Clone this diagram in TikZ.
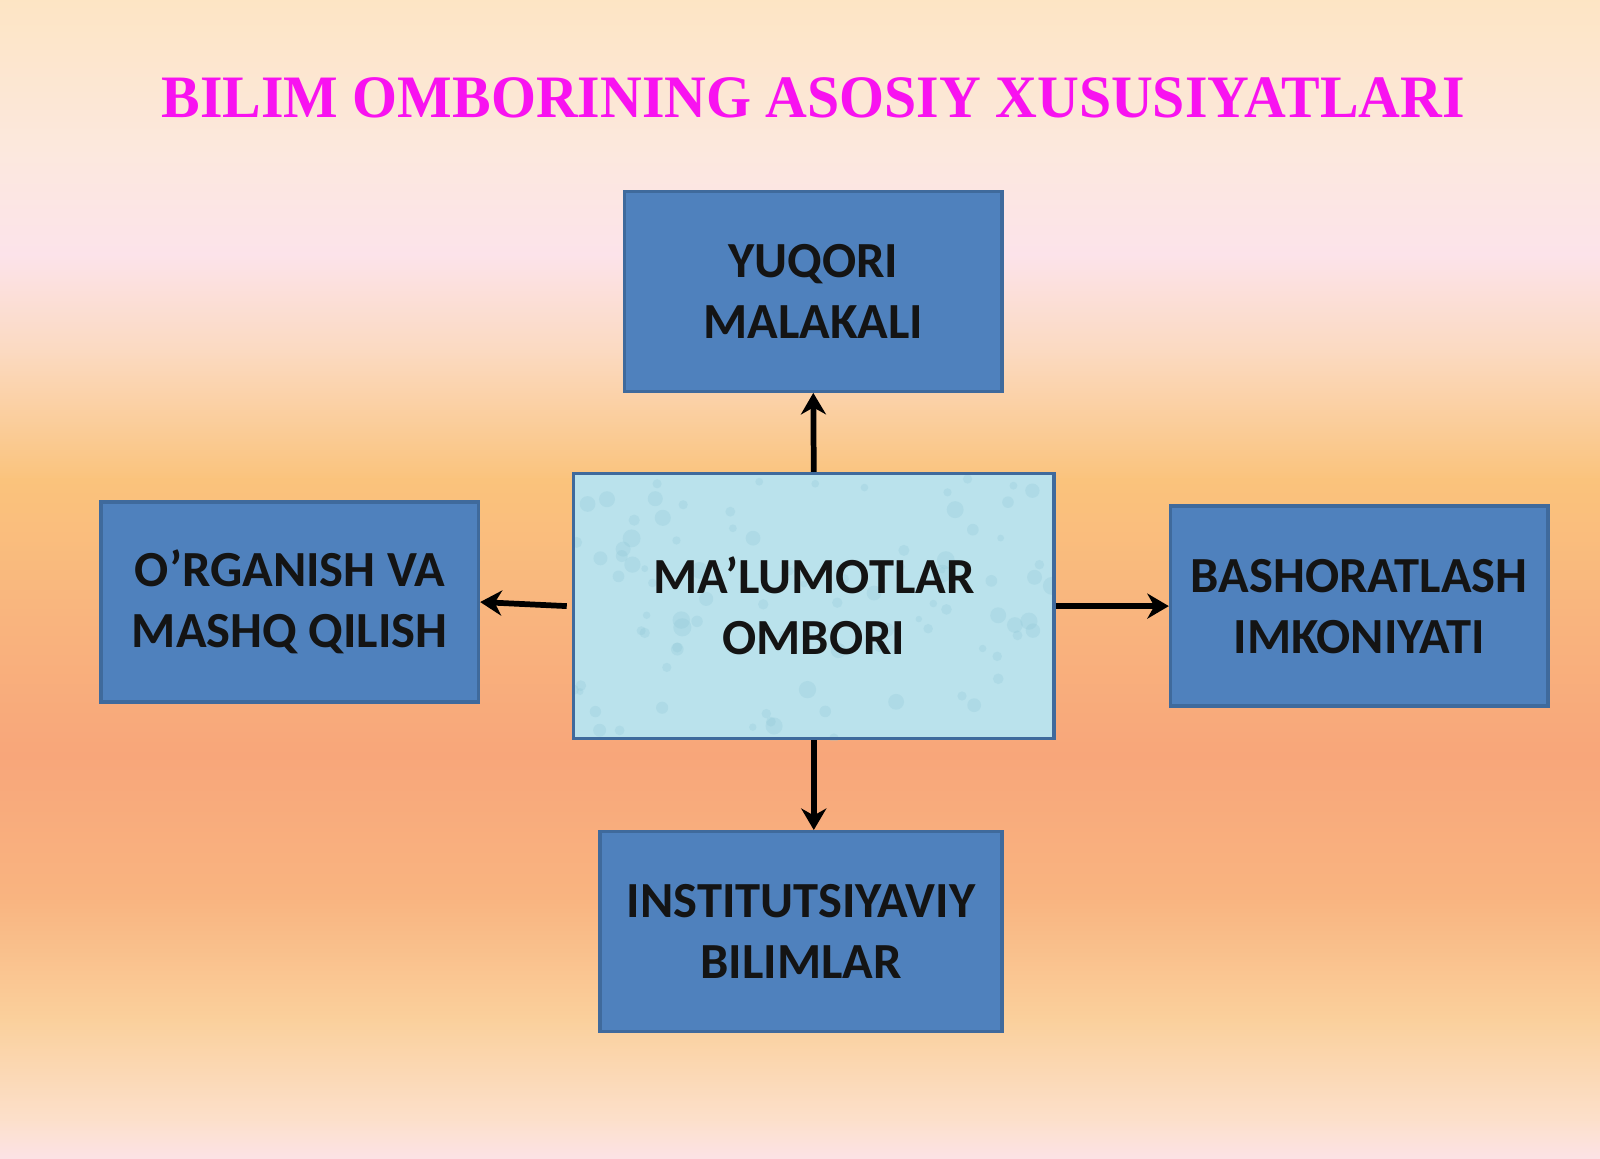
\documentclass[tikz,border=0pt]{standalone}
\usepackage{fontspec}
\setmainfont{Carlito}
\newfontfamily\titlefont{Liberation Serif}
\usetikzlibrary{arrows.meta,calc}
\definecolor{bgA}{HTML}{FDE5C4}
\definecolor{bgB}{HTML}{FCE8DE}
\definecolor{bgC}{HTML}{FCE3EA}
\definecolor{bgD}{HTML}{FBD9BE}
\definecolor{bgE}{HTML}{FAC37C}
\definecolor{bgF}{HTML}{F9B57E}
\definecolor{bgG}{HTML}{F8A67A}
\definecolor{bgH}{HTML}{F9B480}
\definecolor{bgI}{HTML}{FAD09C}
\definecolor{bgJ}{HTML}{FCE0CC}
\definecolor{bgK}{HTML}{FCE2E6}
\definecolor{boxblue}{HTML}{4F81BD}
\definecolor{boxline}{HTML}{3F6A9C}
\definecolor{storefill}{HTML}{BAE2EC}
\definecolor{dropcol}{HTML}{8CC6D6}
\definecolor{titlemag}{HTML}{F812F0}
\tikzset{
  featbox/.style={draw=boxline, line width=0.9pt, fill=boxblue, minimum width=3.7cm,
    minimum height=1.96cm, align=center, font=\fontsize{14.1}{17}\selectfont\bfseries,
    text=black!92, inner sep=0pt, execute at begin node={\rule{0pt}{0.45cm}}},
  storebox/.style={featbox, fill=storefill, minimum width=4.71cm, minimum height=2.6cm},
  arr/.style={-{Stealth[length=6pt,width=7pt]}, line width=1.6pt, black}
}
\begin{document}
\begin{tikzpicture}
    \useasboundingbox (0,0) rectangle (15.68,11.35);
    % background
    \foreach \ya/\yb/\ca/\cb in {11.35/9.85/bgA/bgB, 9.85/8.85/bgB/bgC, 8.85/7.85/bgC/bgD,
        7.85/6.65/bgD/bgE, 6.65/5.35/bgE/bgF, 5.35/3.95/bgF/bgG, 3.95/2.55/bgG/bgH,
        2.55/1.35/bgH/bgI, 1.35/0.35/bgI/bgJ, 0.35/0/bgJ/bgK}
        \shade[top color=\ca, bottom color=\cb] (0,\ya+0.01) rectangle (15.68,\yb-0.01);
    % title
    \node[anchor=base] (title) at (7.97,10.20) {\titlefont\fontsize{16.8}{20}\selectfont\bfseries\color{titlemag}\scalebox{0.96}[1]{BILIM OMBORINING ASOSIY XUSUSIYATLARI}};
    % boxes
    \node[storebox] (store) at (7.975,5.41) {};
    \begin{scope}
        \clip (store.south west) rectangle (store.north east);
        \pgfmathsetseed{7}
        \foreach \i in {1,...,90}
            \fill[dropcol, opacity=0.25] ($(store.south west)+(rnd*4.71,rnd*2.6)$) circle ({0.03+0.06*rnd});
    \end{scope}
    \node[storebox, fill=none] (storetxt) at (store.center) {MA’LUMOTLAR\\OMBORI};
    \node[featbox] (skill) at (7.97,8.495) {YUQORI\\MALAKALI};
    \node[featbox] (learn) at (2.84,5.45) {O’RGANISH VA\\MASHQ QILISH};
    \node[featbox] (forecast) at (13.32,5.41) {BASHORATLASH\\IMKONIYATI};
    \node[featbox, minimum width=3.94cm] (inst) at (7.85,2.22) {INSTITUTSIYAVIY\\BILIMLAR};
    % arrows
    \draw[arr] (store.north) -- (skill.south);
    \draw[arr] ([xshift=-0.05cm]store.west) -- (learn.east);
    \draw[arr] (store.east) -- (forecast.west);
    \draw[arr] (store.south) -- (store.south |- inst.north);
\end{tikzpicture}
\end{document}
